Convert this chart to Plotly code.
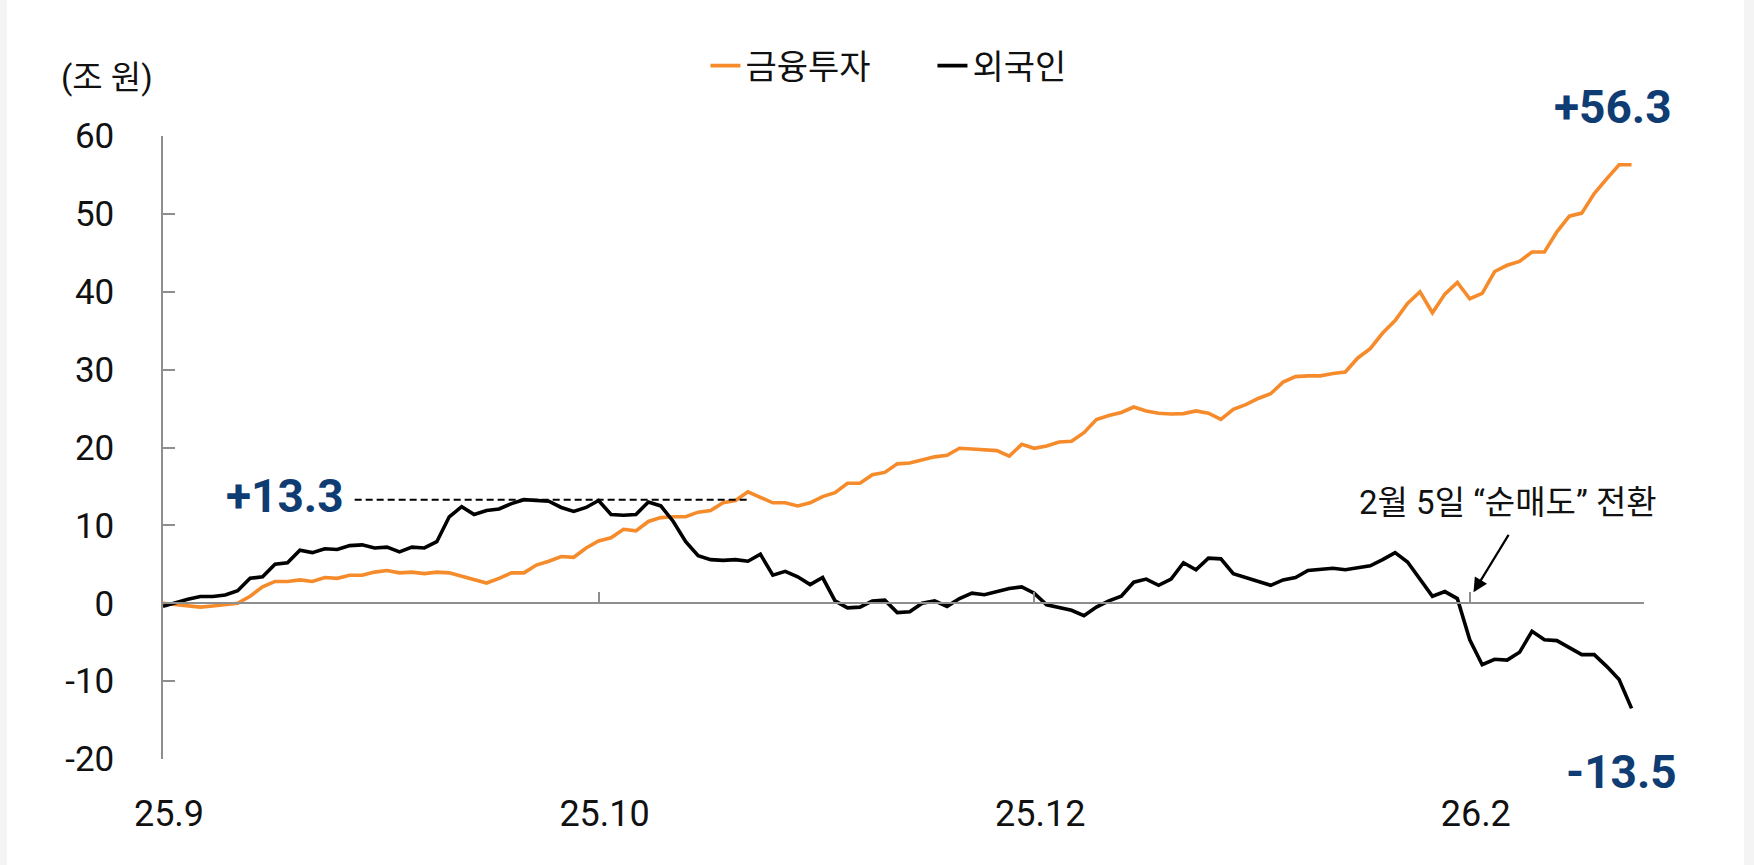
import plotly.graph_objects as go

# ---- data (조 원, cumulative net buying since 25.9, trading-day index) ----
financial = [
    0.0, -0.2, -0.4, -0.5, -0.35, -0.2, 0.0, 0.9, 2.1, 2.8,
    2.8, 3.0, 2.8, 3.3, 3.2, 3.6, 3.6, 4.0, 4.2, 3.9,
    4.0, 3.8, 4.0, 3.9, 3.5, 3.1, 2.6, 3.2, 3.9, 3.9,
    4.9, 5.4, 6.0, 5.9, 7.1, 8.0, 8.4, 9.5, 9.3, 10.5,
    11.0, 11.1, 11.1, 11.7, 11.9, 12.9, 13.2, 14.3, 13.6, 12.9,
    12.9, 12.5, 12.9, 13.7, 14.2, 15.4, 15.4, 16.5, 16.8, 17.9,
    18.0, 18.4, 18.8, 19.0, 19.9, 19.8, 19.7, 19.6, 18.9, 20.4,
    19.9, 20.2, 20.7, 20.8, 21.9, 23.6, 24.1, 24.5, 25.2, 24.7,
    24.4, 24.3, 24.35, 24.7, 24.4, 23.6, 24.9, 25.5, 26.3, 26.9,
    28.4, 29.1, 29.2, 29.2, 29.5, 29.7, 31.5, 32.7, 34.7, 36.3,
    38.5, 40.0, 37.3, 39.7, 41.2, 39.1, 39.8, 42.6, 43.4, 43.9,
    45.1, 45.1, 47.7, 49.7, 50.1, 52.6, 54.5, 56.3, 56.3,
]
foreign = [
    -0.4, 0.1, 0.5, 0.86, 0.86, 1.07, 1.6, 3.2, 3.4, 5.0,
    5.2, 6.8, 6.5, 7.0, 6.9, 7.4, 7.5, 7.1, 7.2, 6.6,
    7.2, 7.1, 7.9, 11.1, 12.4, 11.4, 11.9, 12.1, 12.8, 13.3,
    13.2, 13.1, 12.3, 11.8, 12.3, 13.2, 11.4, 11.3, 11.4, 13.0,
    12.5, 10.5, 7.9, 6.1, 5.6, 5.5, 5.6, 5.4, 6.3, 3.6,
    4.1, 3.4, 2.4, 3.3, 0.3, -0.6, -0.5, 0.3, 0.4, -1.2,
    -1.1, 0.0, 0.3, -0.4, 0.6, 1.3, 1.1, 1.5, 1.9, 2.1,
    1.3, -0.2, -0.5, -0.9, -1.6, -0.5, 0.3, 0.9, 2.7, 3.1,
    2.3, 3.1, 5.2, 4.3, 5.8, 5.7, 3.8, 3.3, 2.9, 2.3,
    3.0, 3.3, 4.2, 4.4, 4.5, 4.3, 4.5, 4.8, 5.6, 6.5,
    5.3, 3.1, 0.9, 1.5, 0.6, -4.7, -7.9, -7.2, -7.3, -6.3,
    -3.6, -4.7, -4.8, -5.7, -6.6, -6.6, -8.1, -9.8, -13.5,
]
series_names = ["금융투자", "외국인"]
tick_positions = [0, 35, 70, 105]
tick_labels = ["25.9", "25.10", "25.12", "26.2"]
y_ticks = [-20, -10, 0, 10, 20, 30, 40, 50, 60]
y_tick_labels = ["-20", "-10", "0", "10", "20", "30", "40", "50", "60"]
turn_index = 105  # 2월 5일

x_idx = list(range(len(financial)))

ORANGE = "#F68B2C"
NAVY = "#0E3C73"
AXIS = "#8E8E8E"
FONT = "Roboto, 'Noto Sans CJK KR', sans-serif"

fig = go.Figure()
fig.add_trace(go.Scatter(x=x_idx, y=financial, mode="lines", name=series_names[0],
                         line=dict(color=ORANGE, width=3.6)))
fig.add_trace(go.Scatter(x=x_idx, y=foreign, mode="lines", name=series_names[1],
                         line=dict(color="#000000", width=3.6)))
# carrier for the bottom label axis (no visible marks)
fig.add_trace(go.Scatter(x=tick_positions, y=[None] * len(tick_positions), xaxis="x2",
                         mode="lines", showlegend=False, hoverinfo="skip"))

peak = max(foreign)
cross_idx = next(i for i, v in enumerate(financial) if v >= peak)
last = len(financial) - 1

# dashed reference line for foreign peak
fig.add_shape(type="line", xref="x", yref="y", x0=15.4, x1=cross_idx, y0=peak, y1=peak,
              line=dict(color="#000000", width=2, dash="7px,4px"))

# light side strips
fig.add_shape(type="rect", xref="paper", yref="paper", x0=-0.2, x1=-0.1053, y0=-0.5, y1=1.5,
              fillcolor="#F4F4F4", line=dict(width=0), layer="below")
fig.add_shape(type="rect", xref="paper", yref="paper", x0=1.0675, x1=1.2, y0=-0.5, y1=1.5,
              fillcolor="#F4F4F4", line=dict(width=0), layer="below")

annos = [
    dict(x=15.4, y=peak, xref="x", yref="y", text=f"+{peak:.1f}", showarrow=False,
         xanchor="right", yanchor="middle", xshift=-9, yshift=4,
         font=dict(family=FONT, size=46, color=NAVY, weight="bold")),
    dict(x=last, y=1.047, xref="x", yref="paper", text=f"+{financial[-1]:.1f}", showarrow=False,
         xanchor="center", yanchor="middle", xshift=-19,
         font=dict(family=FONT, size=46, color=NAVY, weight="bold")),
    dict(x=last, y=-0.021, xref="x", yref="paper", text=f"{foreign[-1]:.1f}", showarrow=False,
         xanchor="center", yanchor="middle", xshift=-10,
         font=dict(family=FONT, size=46, color=NAVY, weight="bold")),
    dict(x=108.1, y=13.0, xref="x", yref="y", text="2월 5일 “순매도” 전환", showarrow=False,
         xanchor="center", yanchor="middle",
         font=dict(family=FONT, size=33, color="#111111")),
    dict(x=turn_index + 0.3, y=1.4, xref="x", yref="y", ax=36, ay=-59, text="",
         showarrow=True, arrowhead=2, arrowsize=1.3, arrowwidth=2.2, arrowcolor="#000000",
         standoff=0),
    dict(x=-0.0378, y=1.0947, xref="paper", yref="paper", text="(조 원)", showarrow=False,
         xanchor="center", yanchor="middle",
         font=dict(family=FONT, size=33, color="#111111")),
]

fig.update_layout(
    width=1754, height=865,
    margin=dict(l=163, r=110, t=136, b=106),
    paper_bgcolor="white", plot_bgcolor="white",
    font=dict(family=FONT, color="#111111"),
    showlegend=True,
    legend=dict(orientation="h", xref="container", yref="container",
                x=0.4022, xanchor="left", y=1 - 66 / 865, yanchor="middle",
                font=dict(family=FONT, size=34, color="#111111"),
                bgcolor="rgba(0,0,0,0)", entrywidth=182, itemwidth=30),
    annotations=annos,
    xaxis=dict(range=[0, 119], anchor="free", position=0.25,
               showline=True, linecolor=AXIS, linewidth=1.5,
               ticks="inside", tickvals=tick_positions, ticklen=11, tickwidth=1.5, tickcolor=AXIS,
               showticklabels=False, showgrid=False, zeroline=False),
    xaxis2=dict(range=[0, 119], overlaying="x", anchor="y", side="bottom",
                showline=False, ticks="", tickvals=tick_positions, ticktext=tick_labels,
                tickfont=dict(family=FONT, size=36, color="#111111"),
                ticklabelstandoff=30, ticklabelshift=6,
                showgrid=False, zeroline=False),
    yaxis=dict(range=[-20, 60], tickvals=y_ticks, ticktext=y_tick_labels,
               showline=True, linecolor=AXIS, linewidth=1.5,
               ticks="inside", ticklen=12, tickwidth=1.5, tickcolor=AXIS,
               tickfont=dict(family=FONT, size=35, color="#111111"),
               ticklabelstandoff=40, showgrid=False, zeroline=False),
)

fig.write_html("out.html", config={"displayModeBar": False},
               post_script="document.body.style.margin='0';document.body.style.overflow='hidden';")
